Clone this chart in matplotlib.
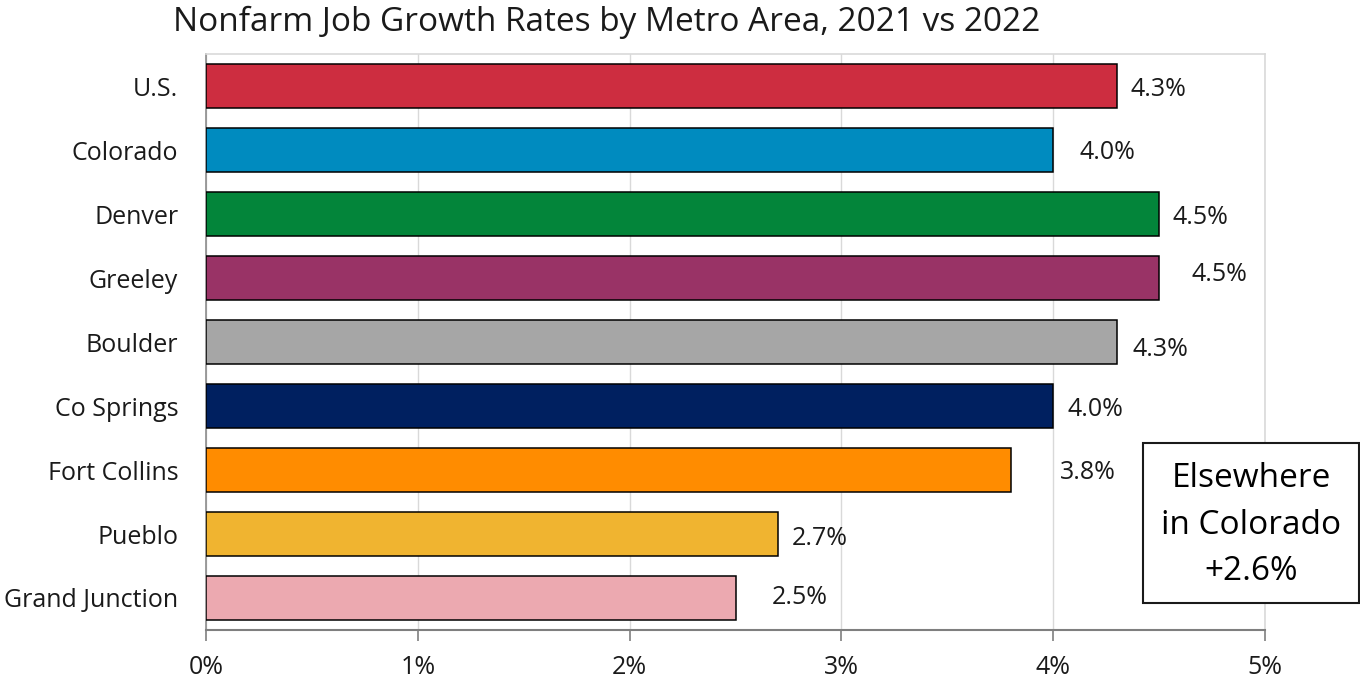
import matplotlib.pyplot as plt
from matplotlib.patches import Rectangle
from matplotlib.ticker import FuncFormatter

plt.rcParams["font.family"] = ["Open Sans", "DejaVu Sans"]

areas = ["U.S.", "Colorado", "Denver", "Greeley", "Boulder", "Co Springs",
         "Fort Collins", "Pueblo", "Grand Junction"]
growth = [4.3, 4.0, 4.5, 4.5, 4.3, 4.0, 3.8, 2.7, 2.5]
bar_colors = ["#CD2D40", "#008BBF", "#03853A", "#993366", "#A6A6A6",
              "#002060", "#FF8C00", "#F0B430", "#ECA9B0"]
elsewhere = 2.6

# hand-placed label nudges (points) so labels sit as in the original layout
label_dx = [10, 19, 10, 23, 11, 10, 35, 10, 26]
label_dy = [-2.5, -1.5, -2.5, 2.5, -5.5, -2.5, -1.5, -3.5, 0.5]

fig = plt.figure(figsize=(13.6, 6.86), dpi=100)
ax = fig.add_axes([206 / 1360, 56 / 686, (1265 - 206) / 1360, (630 - 54) / 686])

ypos = list(range(len(areas)))
ax.barh(ypos, growth, height=0.69, color=bar_colors, edgecolor="black",
        linewidth=1.1, zorder=3)

for y, v, dx, dy in zip(ypos, growth, label_dx, label_dy):
    ax.annotate(f"{v:.1f}%", xy=(v, y), xytext=(dx, dy), textcoords="offset points",
                ha="left", va="center", fontsize=18, color="#1a1a1a")

ax.set_xlim(0, 5)
ax.set_ylim(len(areas) - 0.5, -0.5)
ax.set_xticks([0, 1, 2, 3, 4, 5])
ax.xaxis.set_major_formatter(FuncFormatter(lambda v, p: f"{v:.0f}%"))
ax.set_yticks(ypos)
ax.set_yticklabels(areas)
ax.tick_params(axis="y", length=0, pad=20, labelsize=18, labelcolor="#1a1a1a")
ax.tick_params(axis="x", length=8, width=1.2, color="#7f7f7f", pad=10,
               labelsize=18, labelcolor="#1a1a1a")
ax.grid(axis="x", color="#D9D9D9", linewidth=1.0, zorder=0)

for side in ["top", "right"]:
    ax.spines[side].set_color("#D9D9D9")
    ax.spines[side].set_linewidth(1.2)
ax.spines["left"].set_color("#8c8c8c")
ax.spines["left"].set_linewidth(1.2)
ax.spines["bottom"].set_color("#7f7f7f")
ax.spines["bottom"].set_linewidth(1.5)

fig.text(607 / 1360, 1 - 22 / 686, "Nonfarm Job Growth Rates by Metro Area, 2021 vs 2022",
         ha="center", va="center", fontsize=24, color="#1a1a1a")

# callout box for the rest of the state
bx0, by0, bx1, by1 = 1143, 443, 1359, 603
fig.add_artist(Rectangle((bx0 / 1360, 1 - by1 / 686), (bx1 - bx0) / 1360,
                         (by1 - by0) / 686, transform=fig.transFigure,
                         facecolor="white", edgecolor="#1a1a1a", linewidth=1.5,
                         zorder=5))
fig.text((bx0 + bx1) / 2 / 1360, 1 - (by0 + by1 + 4) / 2 / 686,
         f"Elsewhere\nin Colorado\n+{elsewhere:.1f}%", ha="center", va="center",
         fontsize=24, linespacing=1.55, color="black", zorder=6)

fig.savefig("out.png", dpi=100)
